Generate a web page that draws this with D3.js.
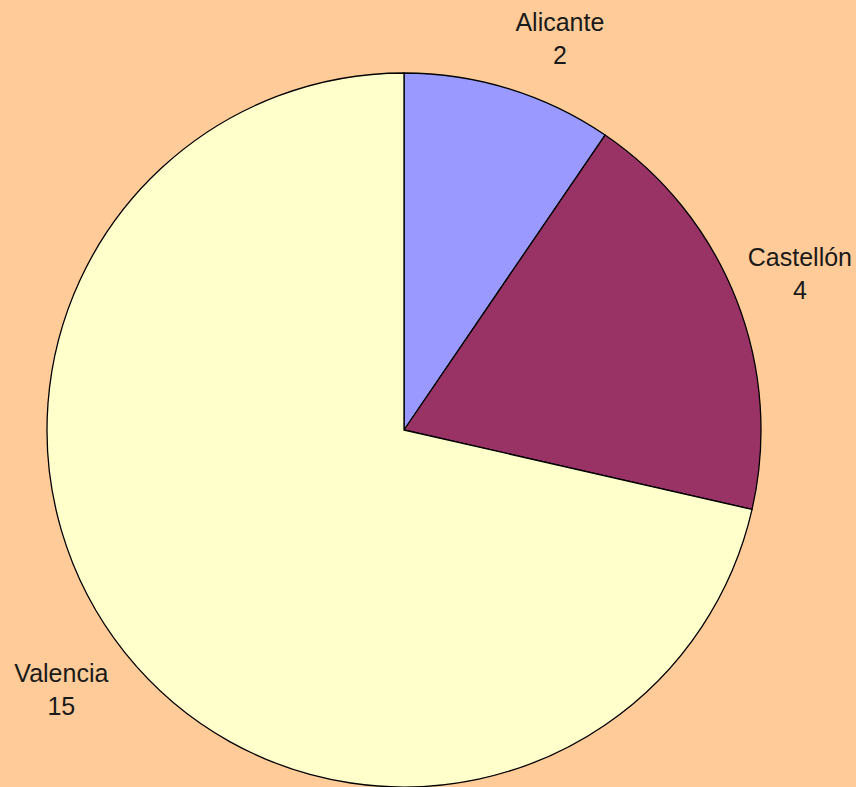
<!DOCTYPE html>
<html>
<head>
<meta charset="utf-8">
<script src="https://cdn.jsdelivr.net/npm/d3@7"></script>
<style>
  html, body { margin: 0; padding: 0; background: #FFCC99; }
  svg { display: block; }
</style>
</head>
<body>
<svg id="chart" width="856" height="787"></svg>
<script>
// Provinces and their counts
const provinces = ["Alicante", "Castellón", "Valencia"];
const counts = [2, 4, 15];
const sliceColors = ["#9999FF", "#993366", "#FFFFCC"];

const W = 856, H = 787;
const cx = 404, cy = 430, radius = 357;

const svg = d3.select("#chart");
svg.append("rect").attr("width", W).attr("height", H).attr("fill", "#FFCC99");

const data = provinces.map((name, i) => ({ name, value: counts[i], color: sliceColors[i] }));

const pie = d3.pie().value(d => d.value).sort(null);
const arc = d3.arc().innerRadius(0).outerRadius(radius);
const arcs = pie(data);

const g = svg.append("g").attr("transform", `translate(${cx},${cy})`);

g.selectAll("path.slice")
  .data(arcs)
  .enter().append("path")
  .attr("class", "slice")
  .attr("d", arc)
  .attr("fill", d => d.data.color)
  .attr("stroke", "#000")
  .attr("stroke-width", 1.3)
  .attr("stroke-linejoin", "round");

// Labels: name and value, placed just outside the slice's mid angle
const fontSize = 25, lineGap = 33, labelR = 378, margin = 4;
const labels = g.selectAll("g.label")
  .data(arcs)
  .enter().append("g")
  .attr("class", "label");

labels.each(function(d) {
  const sel = d3.select(this);
  const t = sel.append("text")
    .attr("text-anchor", "middle")
    .attr("font-family", "'Liberation Sans', Arial, sans-serif")
    .attr("font-size", fontSize)
    .attr("fill", "#1a1a1a");
  t.append("tspan").attr("x", 0).attr("y", 0).text(d.data.name);
  t.append("tspan").attr("x", 0).attr("y", lineGap).text(d.data.value);
  const bb = t.node().getBBox();
  const a = (d.startAngle + d.endAngle) / 2;
  const s = Math.sin(a), c = Math.cos(a);
  let x = labelR * s + Math.sign(s) * bb.width / 2;
  let y = -labelR * c - Math.sign(c) * Math.sqrt(Math.abs(c)) * bb.height / 2;
  // keep the label box inside the chart area
  x = Math.min(x, W - cx - margin - bb.width / 2);
  x = Math.max(x, -cx + margin + bb.width / 2);
  y = Math.max(y, -cy + margin + bb.height / 2);
  const bcx = bb.x + bb.width / 2, bcy = bb.y + bb.height / 2;
  sel.attr("transform", `translate(${x - bcx},${y - bcy})`);
});
</script>
</body>
</html>
